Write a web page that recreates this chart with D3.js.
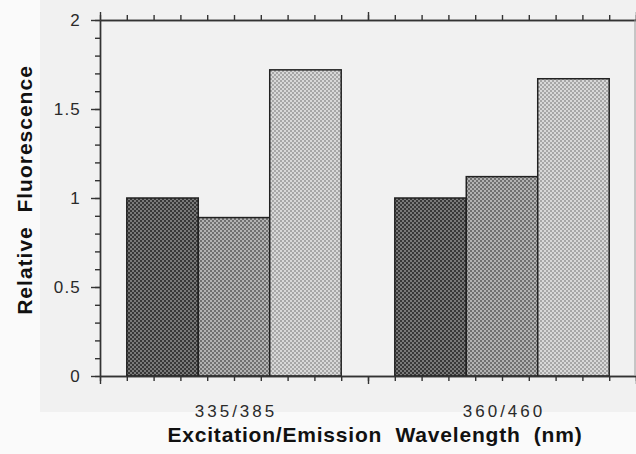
<!DOCTYPE html>
<html>
<head>
<meta charset="utf-8">
<script src="https://cdn.jsdelivr.net/npm/d3@7"></script>
<style>
  html, body { margin: 0; padding: 0; background: #fff; }
  svg { display: block; font-family: "Liberation Sans", Arial, sans-serif; }
  .ttl { white-space: pre; }
</style>
</head>
<body>
<svg id="chart"></svg>
<script>
// data
var categories = ["335/385", "360/460"];
var series = ["a", "b", "c"];
var values335 = [1.0, 0.89, 1.72];
var values360 = [1.0, 1.12, 1.67];
var yTicks = [0, 0.5, 1, 1.5, 2];

var data = categories.map(function(c, i) {
  var v = i === 0 ? values335 : values360;
  return { cat: c, vals: series.map(function(s, j) { return { key: s, value: v[j] }; }) };
});

var W = 636, H = 454;
var plotL = 100, plotR = 636, plotT = 20, plotB = 376;

var svg = d3.select("#chart").attr("width", W).attr("height", H);

// scanned paper background
svg.append("rect").attr("width", W).attr("height", H).attr("fill", "#fafafa");
svg.append("rect").attr("x", 40).attr("y", 0).attr("width", W - 40).attr("height", 412).attr("fill", "#f1f1f1");

// checker patterns for the three bar shades
var shades = [["#383838", "#7a7a7a"], ["#707070", "#b2b2b2"], ["#a6a6a6", "#d8d8d8"]];
var defs = svg.append("defs");
shades.forEach(function(c, i) {
  var p = defs.append("pattern").attr("id", "pat" + i)
    .attr("patternUnits", "userSpaceOnUse").attr("width", 4).attr("height", 4);
  p.append("rect").attr("width", 4).attr("height", 4).attr("fill", c[1]);
  p.append("rect").attr("width", 2).attr("height", 2).attr("fill", c[0]);
  p.append("rect").attr("x", 2).attr("y", 2).attr("width", 2).attr("height", 2).attr("fill", c[0]);
});

var x0 = d3.scaleBand().domain(categories).range([plotL, plotR]).padding(0);
var bw = x0.bandwidth();
var x1 = d3.scaleBand().domain(series).range([bw * 0.1, bw * 0.9]).padding(0);
var y = d3.scaleLinear().domain([0, 2]).range([plotB, plotT]);
// position along the category axis, one unit per category
var u = d3.scaleLinear().domain([0, categories.length]).range([plotL, plotR]);
var minorX = d3.range(0, categories.length * 10 + 1).map(function(k) { return k / 10; });
var majorX = d3.range(0, categories.length + 1);

// bars
var g = svg.append("g");
var grp = g.selectAll("g.grp").data(data).enter().append("g")
  .attr("transform", function(d) { return "translate(" + x0(d.cat) + ",0)"; });
grp.selectAll("rect").data(function(d) { return d.vals; }).enter().append("rect")
  .attr("x", function(d) { return x1(d.key); })
  .attr("y", function(d) { return y(d.value); })
  .attr("width", x1.bandwidth())
  .attr("height", function(d) { return plotB - y(d.value); })
  .attr("fill", function(d, i) { return "url(#pat" + i + ")"; })
  .attr("stroke", "#222")
  .attr("stroke-width", 1.5);

var axisColor = "#333";
function styleAxis(sel) {
  sel.selectAll("path, line").attr("stroke", axisColor).attr("stroke-width", 1.4);
  sel.selectAll("text").remove();
}

// left axis: minor and major ticks
svg.append("g").attr("transform", "translate(" + plotL + ",0)")
  .call(d3.axisLeft(y).tickValues(d3.range(0, 21).map(function(k) { return k / 10; })).tickSize(5).tickSizeOuter(0))
  .call(styleAxis);
svg.append("g").attr("transform", "translate(" + plotL + ",0)")
  .call(d3.axisLeft(y).tickValues(yTicks).tickSize(9).tickSizeOuter(0))
  .call(styleAxis);

// bottom and top axes
[[plotB, d3.axisBottom], [plotT, d3.axisTop]].forEach(function(a) {
  svg.append("g").attr("transform", "translate(0," + a[0] + ")")
    .call(a[1](u).tickValues(minorX).tickSize(5).tickSizeOuter(0))
    .call(styleAxis);
  svg.append("g").attr("transform", "translate(0," + a[0] + ")")
    .call(a[1](u).tickValues(majorX).tickSize(8).tickSizeOuter(0))
    .call(styleAxis);
});

// right frame line
svg.append("line").attr("x1", plotR - 1).attr("x2", plotR - 1).attr("y1", plotT).attr("y2", plotB)
  .attr("stroke", "#9a9a9a").attr("stroke-width", 1);

// y tick labels
svg.append("g").selectAll("text").data(yTicks).enter().append("text")
  .attr("x", 81).attr("y", function(d) { return y(d) + 6; })
  .attr("text-anchor", "end")
  .attr("font-size", 17).attr("letter-spacing", 1.2).attr("fill", "#2a2a2a")
  .text(function(d) { return d; });

// category labels
svg.append("g").selectAll("text").data(categories).enter().append("text")
  .attr("x", function(d) { return x0(d) + bw / 2 + 2; })
  .attr("y", 417)
  .attr("text-anchor", "middle")
  .attr("font-size", 17).attr("letter-spacing", 3).attr("fill", "#2a2a2a")
  .text(function(d) { return d; });

// axis titles
svg.append("text").attr("class", "ttl")
  .attr("x", 375).attr("y", 442)
  .attr("text-anchor", "middle")
  .attr("font-size", 21).attr("font-weight", "bold").attr("letter-spacing", 0.8).attr("fill", "#111")
  .text("Excitation/Emission  Wavelength  (nm)");

svg.append("text").attr("class", "ttl")
  .attr("transform", "translate(32,190) rotate(-90)")
  .attr("text-anchor", "middle")
  .attr("font-size", 21).attr("font-weight", "bold").attr("letter-spacing", 1).attr("fill", "#111")
  .text("Relative  Fluorescence");
</script>
</body>
</html>
